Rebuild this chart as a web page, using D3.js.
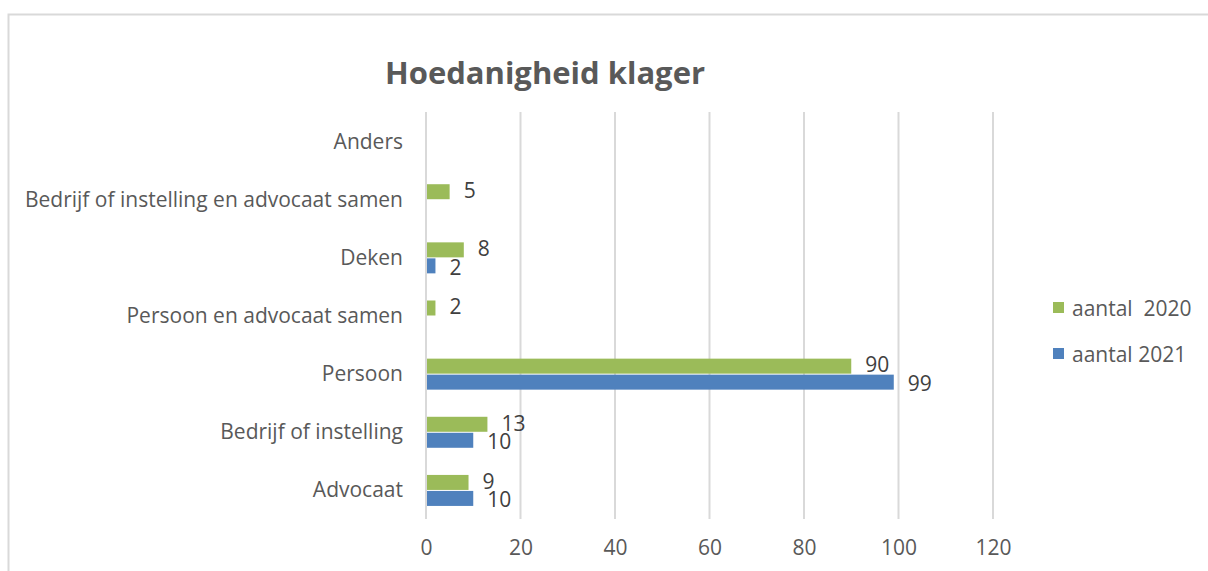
<!DOCTYPE html>
<html>
<head>
<meta charset="utf-8">
<script src="https://cdn.jsdelivr.net/npm/d3@7"></script>
<style>
  html, body { margin: 0; padding: 0; background: #fff; }
  svg { display: block; font-family: "Open Sans", sans-serif; }
</style>
</head>
<body>
<svg id="chart" width="1208" height="571"></svg>
<script>
const categories = [
  "Anders",
  "Bedrijf of instelling en advocaat samen",
  "Deken",
  "Persoon en advocaat samen",
  "Persoon",
  "Bedrijf of instelling",
  "Advocaat",
];
const values2020 = [null, 5, 8, 2, 90, 13, 9];
const values2021 = [null, null, 2, null, 99, 10, 10];
const xTicks = [0, 20, 40, 60, 80, 100, 120];
const seriesNames = ["aantal  2020", "aantal 2021"];

const COLORS = { s2020: "#9bbb59", s2021: "#4f81bd", text: "#595959", grid: "#d9d9d9" };
const FONT = "'Open Sans', sans-serif";
const FS = 21;

const svg = d3.select("#chart");
const margin = { top: 112, left: 426, right: 215, bottom: 52 };
const height = 571 - margin.top - margin.bottom;

// chart frame (only top and left edges visible in the crop)
svg.append("path")
  .attr("d", "M8.5,571 L8.5,14.5 L1208,14.5")
  .attr("fill", "none")
  .attr("stroke", COLORS.grid)
  .attr("stroke-width", 2);

svg.append("text")
  .attr("x", 545)
  .attr("y", 84)
  .attr("text-anchor", "middle")
  .attr("font-size", 31)
  .attr("font-weight", "bold")
  .attr("fill", COLORS.text)
  .text("Hoedanigheid klager");

const x = d3.scaleLinear().domain([0, 120]).range([0, 567]);
const y = d3.scaleBand().domain(categories).range([0, height]);

const g = svg.append("g").attr("transform", `translate(${margin.left},${margin.top})`);

g.selectAll("line.grid")
  .data(xTicks)
  .join("line")
  .attr("class", "grid")
  .attr("x1", (d) => x(d))
  .attr("x2", (d) => x(d))
  .attr("y1", 0)
  .attr("y2", height)
  .attr("stroke", COLORS.grid)
  .attr("stroke-width", 2);

const xAxis = g.append("g")
  .attr("transform", `translate(0,${height})`)
  .call(d3.axisBottom(x).tickValues(xTicks).tickSize(0).tickPadding(21));
xAxis.select(".domain").remove();
xAxis.selectAll("text").attr("font-size", FS).attr("fill", COLORS.text).attr("font-family", FONT);

const yAxis = g.append("g")
  .call(d3.axisLeft(y).tickSize(0).tickPadding(23));
yAxis.select(".domain").remove();
yAxis.selectAll("text").attr("font-size", FS).attr("fill", COLORS.text).attr("font-family", FONT).attr("dy", "0.36em");

const barH = 15;
const series = [
  { values: values2020, color: COLORS.s2020, offset: -barH, dy: "0.3em" },
  { values: values2021, color: COLORS.s2021, offset: 1, dy: "0.42em" },
];

series.forEach((s) => {
  const data = categories.map((c, i) => ({ c, v: s.values[i] })).filter((d) => d.v !== null);
  g.selectAll(null)
    .data(data)
    .join("rect")
    .attr("x", x(0) + 1)
    .attr("y", (d) => y(d.c) + y.bandwidth() / 2 + s.offset)
    .attr("width", (d) => x(d.v) - x(0) - 1)
    .attr("height", barH)
    .attr("fill", s.color);
  g.selectAll(null)
    .data(data)
    .join("text")
    .attr("x", (d) => x(d.v) + 14)
    .attr("y", (d) => y(d.c) + y.bandwidth() / 2 + s.offset + barH / 2)
    .attr("dy", s.dy)
    .attr("font-size", FS)
    .attr("fill", "#404040")
    .text((d) => d.v);
});

const legend = svg.append("g").attr("transform", "translate(1053,302)");
[COLORS.s2020, COLORS.s2021].forEach((c, i) => {
  legend.append("rect")
    .attr("x", 0)
    .attr("y", i * 46)
    .attr("width", 11)
    .attr("height", 11)
    .attr("fill", c);
  legend.append("text")
    .attr("x", 19)
    .attr("y", i * 46 + 6)
    .attr("dy", "0.36em")
    .attr("font-size", FS)
    .attr("fill", COLORS.text)
    .attr("xml:space", "preserve")
    .style("white-space", "pre")
    .text(seriesNames[i]);
});
</script>
</body>
</html>
